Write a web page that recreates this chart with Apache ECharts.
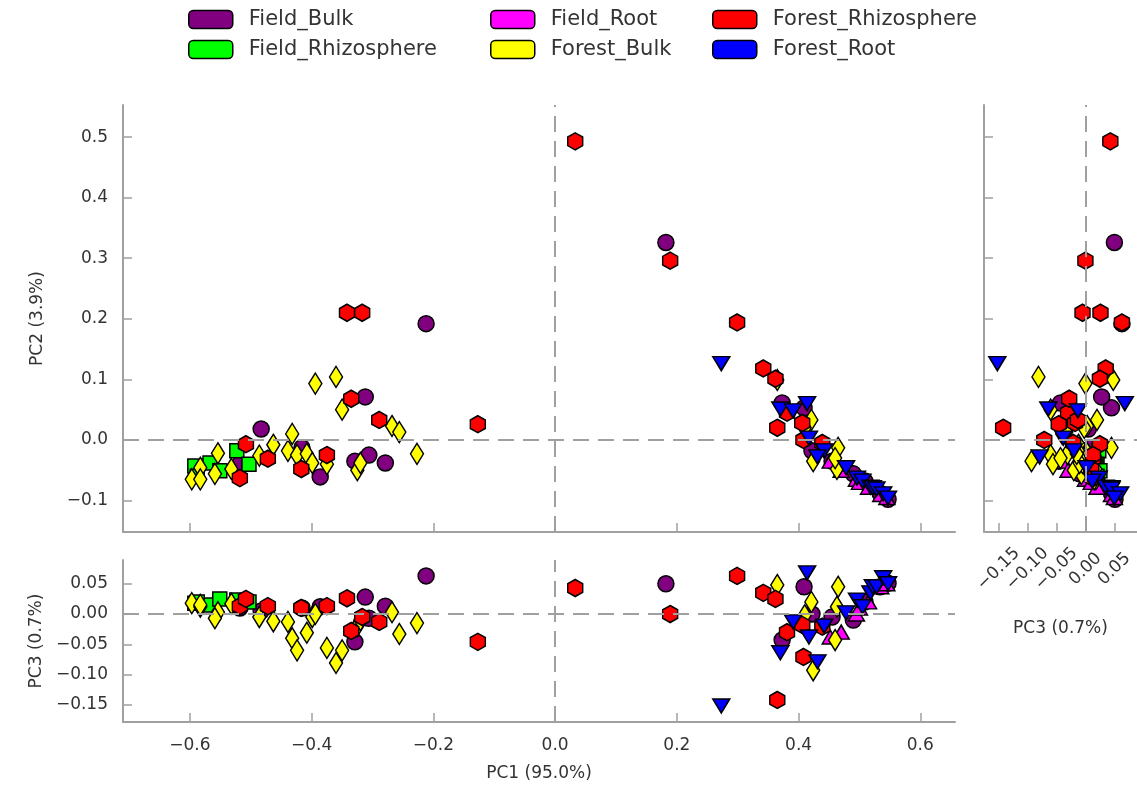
<!DOCTYPE html>
<html><head><meta charset="utf-8">
<script src="https://cdn.jsdelivr.net/npm/echarts@6/dist/echarts.min.js"></script>
<style>html,body{margin:0;padding:0;background:#fff}#c{width:1137px;height:788px}</style>
</head><body><div id="c"></div>
<script>
// ---------- data (PC1, PC2, PC3 per sample) ----------
const groups = ['Field_Bulk','Field_Rhizosphere','Field_Root','Forest_Bulk','Forest_Rhizosphere','Forest_Root'];

const fieldBulkPC1 = [0.182, 0.373, 0.409, 0.422, 0.455, 0.490, 0.509, 0.534, 0.547, -0.483, -0.518, -0.416, -0.386, -0.329, -0.306, -0.279, -0.312, -0.212];
const fieldBulkPC2 = [0.326, 0.061, 0.053, -0.018, -0.035, -0.056, -0.068, -0.088, -0.098, 0.018, -0.040, -0.013, -0.061, -0.035, -0.025, -0.038, 0.071, 0.192];
const fieldBulkPC3 = [0.050, -0.043, 0.045, 0.000, -0.005, -0.010, 0.020, 0.045, 0.051, 0.005, 0.010, 0.010, 0.012, -0.046, -0.007, 0.013, 0.028, 0.063];

const fieldRhizPC1 = [-0.523, -0.503, -0.592, -0.567, -0.551, -0.588];
const fieldRhizPC2 = [-0.018, -0.040, -0.043, -0.038, -0.051, -0.060];
const fieldRhizPC3 = [0.023, 0.020, 0.018, 0.015, 0.025, 0.020];

const fieldRootPC1 = [0.452, 0.470, 0.495, 0.500, 0.515, 0.535, 0.545];
const fieldRootPC2 = [-0.035, -0.050, -0.065, -0.070, -0.078, -0.090, -0.095];
const fieldRootPC3 = [-0.038, -0.030, 0.000, 0.010, 0.020, 0.045, 0.050];

const forestBulkPC1 = [-0.597, -0.583, -0.583, -0.554, -0.559, -0.532, -0.486, -0.463, -0.432, -0.439, -0.424, -0.408, -0.399, -0.375, -0.394, -0.360, -0.350, -0.325, -0.320, -0.268, -0.256, -0.227,
                       0.365, 0.421, 0.410, 0.465, 0.463, 0.424, 0.460];
const forestBulkPC2 = [-0.065, -0.046, -0.065, -0.022, -0.056, -0.048, -0.026, -0.008, 0.010, -0.018, -0.025, -0.023, -0.038, -0.040, 0.093, 0.104, 0.050, -0.050, -0.038, 0.023, 0.013, -0.023,
                       0.099, 0.033, 0.020, -0.013, -0.048, -0.035, -0.030];
const forestBulkPC3 = [0.018, 0.012, 0.015, 0.003, -0.007, 0.017, -0.005, -0.012, -0.040, -0.013, -0.060, -0.031, -0.005, -0.056, 0.000, -0.081, -0.060, -0.020, -0.010, 0.003, -0.033, -0.015,
                       0.048, 0.020, -0.002, 0.045, 0.012, -0.093, -0.043];

const forestRhizPC1 = [0.033, 0.189, 0.299, 0.342, 0.362, 0.365, 0.381, 0.406, 0.408, 0.439, -0.518, -0.508, -0.472, -0.417, -0.375, -0.342, -0.317, -0.335, -0.289, -0.127];
const forestRhizPC2 = [0.493, 0.296, 0.194, 0.118, 0.101, 0.020, 0.045, 0.028, 0.000, -0.005, -0.063, -0.007, -0.031, -0.048, -0.025, 0.210, 0.210, 0.068, 0.033, 0.026];
const forestRhizPC3 = [0.043, 0.000, 0.063, 0.035, 0.025, -0.142, -0.030, -0.018, -0.071, -0.021, 0.013, 0.025, 0.013, 0.010, 0.013, 0.026, -0.005, -0.028, -0.013, -0.046];

const forestRootPC1 = [0.273, 0.370, 0.391, 0.414, 0.417, 0.442, 0.431, 0.478, 0.496, 0.505, 0.518, 0.522, 0.528, 0.539, 0.547];
const forestRootPC2 = [0.126, 0.051, 0.048, 0.060, 0.003, -0.018, -0.028, -0.046, -0.063, -0.068, -0.078, -0.079, -0.081, -0.089, -0.096];
const forestRootPC3 = [-0.152, -0.064, -0.013, 0.068, -0.038, -0.020, -0.079, 0.002, 0.023, 0.012, 0.035, 0.045, 0.045, 0.060, 0.050];

// tick values
const pc1Ticks = [-0.6, -0.4, -0.2, 0.0, 0.2, 0.4, 0.6];
const pc2Ticks = [-0.1, 0.0, 0.1, 0.2, 0.3, 0.4, 0.5];
const pc3Ticks = [-0.15, -0.10, -0.05, 0.00, 0.05];

const axisTitles = { pc1: 'PC1 (95.0%)', pc2: 'PC2 (3.9%)', pc3: 'PC3 (0.7%)' };

// ---------- styling ----------
const HEX = 'path://M0.5,0L0.933,0.25L0.933,0.75L0.5,1L0.067,0.75L0.067,0.25Z';
const styles = {
  Field_Bulk:        { color: '#800080', symbol: 'circle',   size: 16,      rotate: 0 },
  Field_Rhizosphere: { color: '#00ff00', symbol: 'rect',     size: 14,      rotate: 0 },
  Field_Root:        { color: '#ff00ff', symbol: 'triangle', size: [16, 14], rotate: 0 },
  Forest_Bulk:       { color: '#ffff00', symbol: 'diamond',  size: [13, 21], rotate: 0 },
  Forest_Rhizosphere:{ color: '#ff0000', symbol: HEX,        size: [15, 17], rotate: 0 },
  Forest_Root:       { color: '#0000ff', symbol: 'triangle', size: [17, 14], rotate: 180 }
};
const pcs = {
  Field_Bulk: [fieldBulkPC1, fieldBulkPC2, fieldBulkPC3],
  Field_Rhizosphere: [fieldRhizPC1, fieldRhizPC2, fieldRhizPC3],
  Field_Root: [fieldRootPC1, fieldRootPC2, fieldRootPC3],
  Forest_Bulk: [forestBulkPC1, forestBulkPC2, forestBulkPC3],
  Forest_Rhizosphere: [forestRhizPC1, forestRhizPC2, forestRhizPC3],
  Forest_Root: [forestRootPC1, forestRootPC2, forestRootPC3]
};

const GRAY = '#a0a0a0';
const TXT = '#333';
const FS = 17;
const fmt = (v, d) => (v < -1e-9 ? '\u2212' : '') + Math.abs(v).toFixed(d);

function axisBase(extra) {
  return Object.assign({
    type: 'value',
    splitLine: { show: false },
    axisLine: { onZero: false, lineStyle: { color: GRAY, width: 2 } },
    nameTextStyle: { color: TXT, fontSize: FS, fontFamily: 'DejaVu Sans' }
  }, extra);
}
function ticks(vals) { return { show: true, inside: true, length: 9, customValues: vals, lineStyle: { color: GRAY, width: 1.5 } }; }
function labels(vals, d, extra) {
  return Object.assign({ show: true, customValues: vals, color: TXT, fontSize: FS, fontFamily: 'DejaVu Sans',
    formatter: v => fmt(v, d) }, extra || {});
}

const PC1R = [-0.71, 0.657];
const PC2R = [-0.152, 0.553];
const PC3R = [-0.1785, 0.0893];
const PC3RX = [-0.175, 0.089];

const option = {
  animation: false,
  backgroundColor: '#fff',
  legend: [
    { data: ['Field_Bulk', 'Field_Rhizosphere'], left: 188, top: 9 },
    { data: ['Field_Root', 'Forest_Bulk'], left: 490, top: 9 },
    { data: ['Forest_Rhizosphere', 'Forest_Root'], left: 712, top: 9 }
  ].map(l => Object.assign(l, {
    orient: 'vertical', padding: 0, itemGap: 9, itemWidth: 44, itemHeight: 18,
    icon: 'roundRect', symbolRotate: 0,
    itemStyle: { borderColor: '#000', borderWidth: 1.5 },
    textStyle: { color: TXT, fontSize: 21, fontFamily: 'DejaVu Sans', lineHeight: 18, padding: [0, 0, 0, 11] }
  })),
  grid: [
    { left: 123, top: 105, width: 832, height: 427 },
    { left: 123, top: 560, width: 832, height: 162 },
    { left: 984, top: 105, width: 160, height: 427 }
  ],
  xAxis: [
    axisBase({ gridIndex: 0, min: PC1R[0], max: PC1R[1], axisTick: ticks(pc1Ticks), axisLabel: { show: false } }),
    axisBase({ gridIndex: 1, min: PC1R[0], max: PC1R[1], axisTick: ticks(pc1Ticks),
      axisLabel: labels(pc1Ticks, 1, { margin: 15 }),
      name: axisTitles.pc1, nameLocation: 'middle', nameGap: 43 }),
    axisBase({ gridIndex: 2, min: PC3RX[0], max: PC3RX[1], axisTick: ticks(pc3Ticks),
      axisLabel: labels(pc3Ticks, 2, { rotate: 45, align: 'center', verticalAlign: 'middle', margin: 37 }),
      name: axisTitles.pc3, nameLocation: 'middle', nameGap: 88 })
  ],
  yAxis: [
    axisBase({ gridIndex: 0, min: PC2R[0], max: PC2R[1], axisTick: ticks(pc2Ticks),
      axisLabel: labels(pc2Ticks, 1, { margin: 15 }),
      name: axisTitles.pc2, nameLocation: 'middle', nameGap: 77 }),
    axisBase({ gridIndex: 1, min: PC3R[0], max: PC3R[1], axisTick: ticks(pc3Ticks),
      axisLabel: labels(pc3Ticks, 2, { margin: 15 }),
      name: axisTitles.pc3, nameLocation: 'middle', nameGap: 77 }),
    axisBase({ gridIndex: 2, min: PC2R[0], max: PC2R[1], axisTick: ticks(pc2Ticks), axisLabel: { show: false } })
  ],
  series: []
};

// dashed zero lines
const dash = { color: GRAY, width: 2, type: [16, 9] };
function zeroLines(idx, lines) {
  return { type: 'scatter', xAxisIndex: idx, yAxisIndex: idx, data: [], z: 1, silent: true,
    markLine: { silent: true, symbol: 'none', label: { show: false }, lineStyle: dash, data: lines, animation: false } };
}
option.series.push(zeroLines(0, [{ xAxis: 0 }, { yAxis: 0 }]));
option.series.push(zeroLines(1, [{ xAxis: 0 }, { yAxis: 0 }]));
option.series.push(zeroLines(2, [{ xAxis: 0 }, { yAxis: 0 }]));

// panels: [grid, x-PC index, y-PC index]
const panels = [[0, 0, 1], [1, 0, 2], [2, 2, 1]];
panels.forEach(([g, xi, yi]) => {
  groups.forEach(name => {
    const s = styles[name];
    const arr = pcs[name];
    option.series.push({
      type: 'scatter', name, xAxisIndex: g, yAxisIndex: g, z: 2, clip: true,
      symbol: s.symbol, symbolSize: s.size, symbolRotate: s.rotate,
      itemStyle: { color: s.color, borderColor: '#000', borderWidth: 1.5, opacity: 1 },
      emphasis: { disabled: true },
      data: arr[xi].map((v, i) => [v, arr[yi][i]])
    });
  });
});

const chart = echarts.init(document.getElementById('c'), null, { renderer: 'canvas' });
chart.setOption(option);
</script>
</body></html>
